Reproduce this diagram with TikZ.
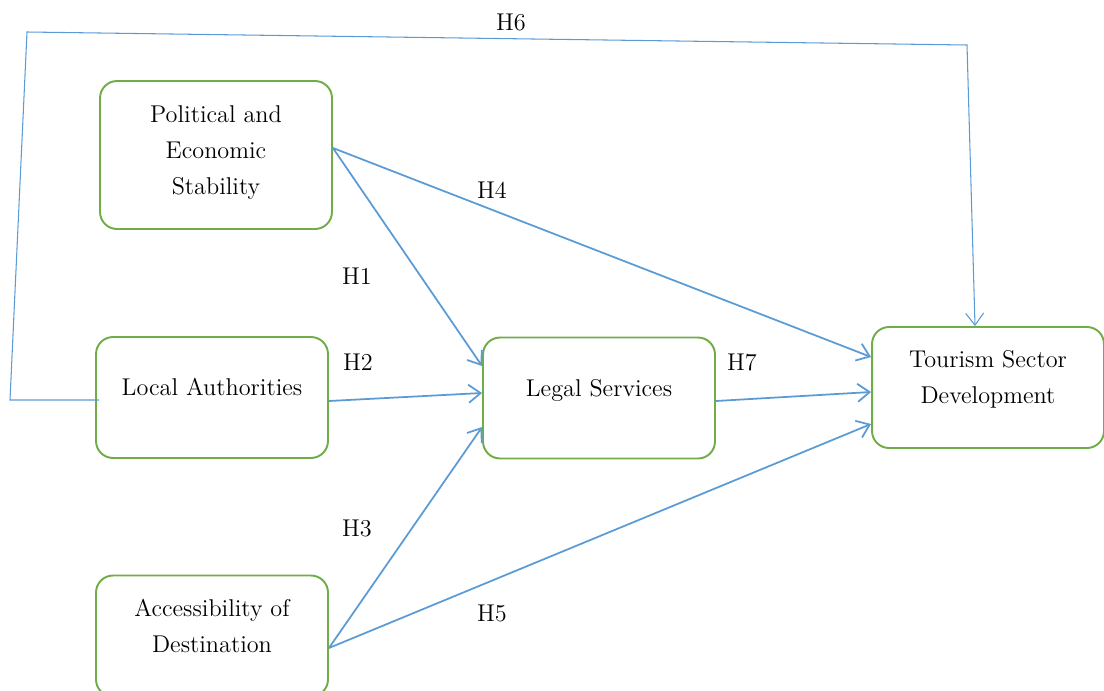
\documentclass[tikz,border=0pt]{standalone}
\usepackage{tikz}
\usetikzlibrary{arrows.meta}

\definecolor{boxgreen}{HTML}{70AD47}
\definecolor{lineblue}{HTML}{5B9BD5}

\begin{document}
\begin{tikzpicture}[
      x=0.02cm, y=-0.02cm,
      font=\fontsize{13.8}{20.5}\selectfont,
      box/.style={draw=boxgreen, line width=1.1pt, rounded corners=0.34cm, align=center,
                  minimum width=4.64cm, minimum height=2.42cm, inner sep=0pt, text depth=11.7pt},
      arr/.style={-{Straight Barb[length=2.4mm, width=3.6mm]}, draw=lineblue, line width=1pt},
      hyp/.style={inner sep=0pt},
    ]
    \useasboundingbox (0,0) rectangle (1104,690);
    \node[box, minimum height=2.96cm, text depth=6pt] (pes) at (216,155) {Political and\\Economic\\Stability};
    \node[box] (la)  at (212,397.5) {Local Authorities};
    \node[box] (acc) at (212,636)   {Accessibility of\\Destination};
    \node[box] (ls)  at (599,398)   {Legal Services};
    \node[box] (tsd) at (988,387.5) {Tourism Sector\\Development};
    % hypothesis labels
    \node[hyp] (lh1) at (357,276) {H1};
    \node[hyp] (lh2) at (358,362) {H2};
    \node[hyp] (lh3) at (357,528) {H3};
    \node[hyp] (lh4) at (492,190) {H4};
    \node[hyp] (lh5) at (492,613) {H5};
    \node[hyp] (lh6) at (511,22)  {H6};
    \node[hyp] (lh7) at (742,362) {H7};
    % paths
    \draw[arr] ([yshift=0.14cm]pes.east) -- ([yshift=0.64cm]ls.west);
    \draw[arr] ([yshift=0.14cm]pes.east) -- ([yshift=0.61cm]tsd.west);
    \draw[arr] ([yshift=-0.07cm]la.east) -- ([yshift=0.1cm]ls.west);
    \draw[arr] ([yshift=-0.24cm]acc.east) -- ([yshift=-0.58cm]ls.west);
    \draw[arr] ([yshift=-0.24cm]acc.east) -- ([yshift=-0.73cm]tsd.west);
    \draw[arr] ([yshift=-0.06cm]ls.east) -- ([yshift=-0.09cm]tsd.west);
    \coordinate (h6a) at (10,400);
    \coordinate (h6b) at (27,32);
    \coordinate (h6c) at (967,45);
    \draw[arr, line width=0.6pt] ([xshift=0.08cm, yshift=-0.05cm]la.west) -- (h6a) -- (h6b) -- (h6c)
      -- ([xshift=-0.26cm]tsd.north);
\end{tikzpicture}
\end{document}
